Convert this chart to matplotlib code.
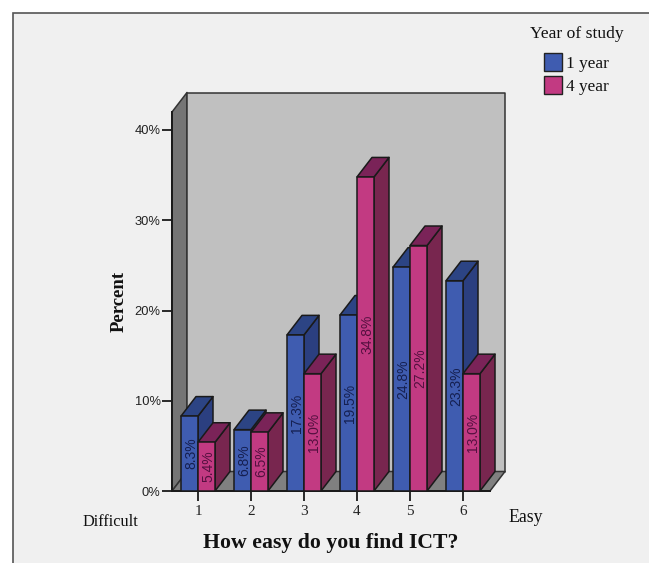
import matplotlib
matplotlib.use("Agg")
import matplotlib.pyplot as plt
from matplotlib.patches import Polygon, Rectangle
from matplotlib.ticker import FuncFormatter

categories = [1, 2, 3, 4, 5, 6]
year1 = [8.3, 6.8, 17.3, 19.5, 24.8, 23.3]
year4 = [5.4, 6.5, 13.0, 34.8, 27.2, 13.0]
series_names = ["1 year", "4 year"]
y_ticks = [0, 10, 20, 30, 40]

W, H = 649, 563
BG = "#f0f0f0"
EDGE = "#1a1a1a"
SERIF = "Liberation Serif"
SANS = "Liberation Sans"

# front, top, side shades for each series
BLUE = ("#3f5cb0", "#2c4484", "#2b3f80")
PINK = ("#c23a82", "#7a2358", "#78264f")

fig = plt.figure(figsize=(W / 100, H / 100), dpi=100, facecolor="white")
fig.add_artist(Rectangle((13 / W, -0.01), 1.0, 1.01 - 13 / H, transform=fig.transFigure,
                         facecolor=BG, edgecolor="#555555", linewidth=1.2, zorder=-1))

# axes sit on the front plane of the box, depth is an offset from it
left, right, top, bottom = 172, 490, 112, 491
ax = fig.add_axes([left / W, 1 - bottom / H, (right - left) / W, (bottom - top) / H])
px_x = 53.0
px_y = 9.025
ax.set_xlim(1 + (left - 198) / px_x, 1 + (right - 198) / px_x)
ax.set_ylim(0, (bottom - top) / px_y)
ax.patch.set_visible(False)
for s in ["top", "right"]:
    ax.spines[s].set_visible(False)
for s in ["left", "bottom"]:
    ax.spines[s].set_color(EDGE)
    ax.spines[s].set_linewidth(1.4)
    ax.spines[s].set_zorder(1)

dx = 15 / px_x
dy = 19.5 / px_y
bar_w = 17 / px_x
x0, x1 = ax.get_xlim()
y1 = ax.get_ylim()[1]


def poly(pts, color, z=2, edge=EDGE):
    ax.add_patch(Polygon(pts, closed=True, facecolor=color, edgecolor=edge,
                         linewidth=1.1, clip_on=False, zorder=z, joinstyle="round"))


# walls and floor
poly([(x0, 0), (x0 + dx, dy), (x0 + dx, y1 + dy), (x0, y1)], "#757575", 1, "#333333")
poly([(x0 + dx, dy), (x1 + dx, dy), (x1 + dx, y1 + dy), (x0 + dx, y1 + dy)], "#c0c0c0", 1, "#333333")
poly([(x0, 0), (x1, 0), (x1 + dx, dy), (x0 + dx, dy)], "#808080", 1, "#333333")


def bar(x, v, shades, z):
    xl, xr = x, x + bar_w
    poly([(xr, 0), (xr + dx, dy), (xr + dx, v + dy), (xr, v)], shades[2], z)
    poly([(xl, v), (xr, v), (xr + dx, v + dy), (xl + dx, v + dy)], shades[1], z)
    poly([(xl, 0), (xr, 0), (xr, v), (xl, v)], shades[0], z)
    ax.text(x + bar_w / 2, v / 2, f"{v:.1f}%", rotation=90, rotation_mode="anchor",
            ha="center", va="center_baseline", fontsize=10,
            family=SANS, color="#151f50" if shades is BLUE else "#541040",
            zorder=z + 0.5, clip_on=False)


z = 3
for c, a, b in zip(categories, year1, year4):
    bar(c - bar_w, a, BLUE, z)
    bar(c, b, PINK, z + 1)
    z += 2

ax.set_xticks(categories)
ax.set_yticks(y_ticks)
ax.yaxis.set_major_formatter(FuncFormatter(lambda v, _: f"{v:.0f}%"))
ax.tick_params(axis="x", length=7.2, width=1.3, color=EDGE, pad=3, labelsize=11, labelcolor="#222222")
ax.tick_params(axis="y", length=7.2, width=1.3, color=EDGE, pad=1, labelsize=9.3, labelcolor="#222222")
for t in ax.get_xticklabels():
    t.set_family(SERIF)
for t in ax.get_yticklabels():
    t.set_family(SANS)
ax.xaxis.set_zorder(50)


def fig_text(px, py, s, **kw):
    fig.text(px / W, 1 - py / H, s, family=SERIF, color="#111111", **kw)


fig_text(119, 301, "Percent", rotation=90, ha="center", va="center", fontsize=13.5, weight="bold")
fig_text(331, 543, "How easy do you find ICT?", ha="center", va="center", fontsize=15.7, weight="bold")
fig_text(110, 522, "Difficult", ha="center", va="center", fontsize=11.8)
fig_text(525.5, 517, "Easy", ha="center", va="center", fontsize=12.8)

# legend
fig_text(577, 34, "Year of study", ha="center", va="center", fontsize=12.6)
for i, (name, col) in enumerate(zip(series_names, [BLUE[0], PINK[0]])):
    py = 62 + i * 23
    fig.add_artist(Rectangle((544 / W, 1 - (py + 9) / H), 18 / W, 18 / H, transform=fig.transFigure,
                             facecolor=col, edgecolor="#222222", linewidth=1.0))
    fig_text(566, py + 2, name, ha="left", va="center", fontsize=12.4)

fig.savefig("out.png", dpi=100, facecolor="white")
